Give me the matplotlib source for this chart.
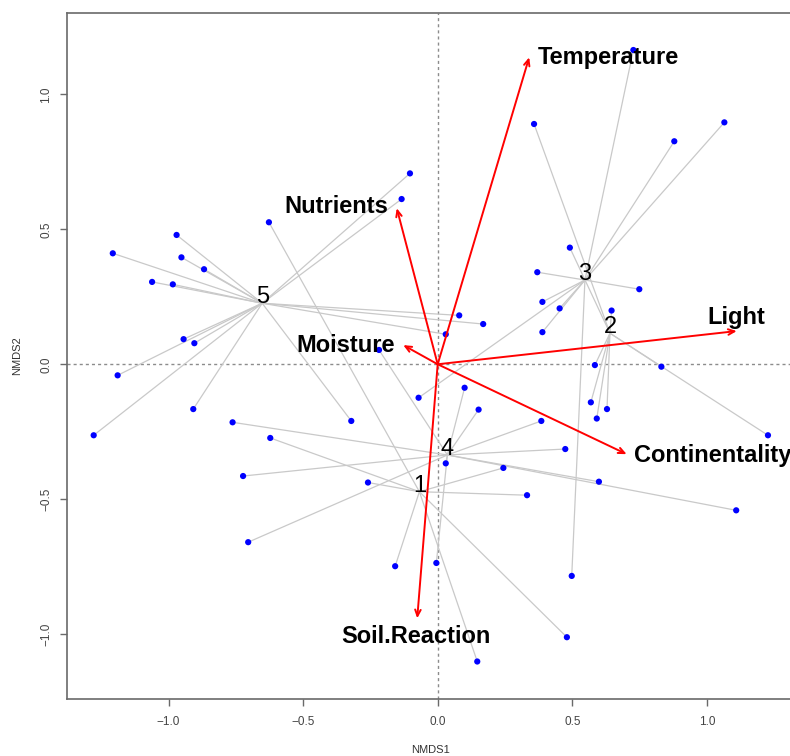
import numpy as np
import matplotlib
matplotlib.use("Agg")
import matplotlib.pyplot as plt

plt.rcParams["font.family"] = ["Liberation Sans", "DejaVu Sans"]

# =========================
# DATA (read off the NMDS ordination)
# =========================
# site scores, grouped by cluster
site_x = [
    # group 1
    -0.627, -0.622, -0.259, -0.158, 0.147, 0.480, 0.332, 0.244,
    # group 2
    0.584, 0.831, 0.569, 0.629, 0.591, 1.227, 0.646, 0.491, 0.358,
    # group 3
    0.727, 0.879, 1.065, 0.370, 0.749, 0.389, 0.453, 0.389, -0.071, 0.498,
    # group 4
    -0.762, -0.723, -0.704, 0.100, 0.152, 0.385, 0.474, 0.599, 1.109, -0.005, 0.030, -0.218,
    # group 5
    -1.207, -0.970, -0.952, -0.868, -1.061, -0.984, -0.944, -0.904, -1.189, -1.278,
    -0.908, -0.103, -0.134, 0.080, 0.169, 0.030, -0.321,
]
site_y = [
    0.526, -0.273, -0.438, -0.748, -1.101, -1.011, -0.485, -0.384,
    -0.003, -0.009, -0.141, -0.166, -0.201, -0.263, 0.199, 0.432, 0.890,
    1.164, 0.826, 0.896, 0.341, 0.278, 0.231, 0.207, 0.119, -0.124, -0.784,
    -0.215, -0.414, -0.659, -0.087, -0.168, -0.210, -0.314, -0.435, -0.541, -0.736, -0.367, 0.053,
    0.411, 0.479, 0.396, 0.352, 0.305, 0.296, 0.093, 0.078, -0.041, -0.263,
    -0.166, 0.707, 0.612, 0.181, 0.149, 0.111, -0.210,
]
site_group = [1] * 8 + [2] * 9 + [3] * 10 + [4] * 12 + [5] * 17

# group centroids (spider centres)
GROUPS = [1, 2, 3, 4, 5]
cent_x = [-0.068, 0.640, 0.547, 0.036, -0.652]
cent_y = [-0.472, 0.115, 0.312, -0.336, 0.226]

# envfit vectors
VARS = ["Temperature", "Nutrients", "Moisture", "Light", "Continentality", "Soil.Reaction"]
vec_x = [0.340, -0.152, -0.128, 1.111, 0.702, -0.076]
vec_y = [1.137, 0.578, 0.071, 0.123, -0.333, -0.941]

# label placement relative to arrow tip: (ha, va, dx pt, dy pt)
LABEL_STYLE = {
    "Temperature": ("left", "center", 6, 0),
    "Nutrients": ("right", "center", -6, 1),
    "Moisture": ("right", "center", -6, 0),
    "Light": ("center", "center", 0, 10),
    "Continentality": ("left", "center", 5, -1),
    "Soil.Reaction": ("center", "center", -1, -13),
}

# =========================
# FIGURE
# =========================
W, H = 790, 756
fig = plt.figure(figsize=(W / 100, H / 100), dpi=100)
ax = fig.add_axes([67.3 / W, (H - 699.3) / H, (793 - 67.3) / W, (699.3 - 13.3) / H])
ax.set_xlim(-1.376, 1.320)
ax.set_ylim(-1.241, 1.300)

# zero cross
ax.axhline(0, color="#8c8c8c", lw=1.0, ls=(0, (2.2, 2.2)), zorder=1)
ax.axvline(0, color="#8c8c8c", lw=1.0, ls=(0, (2.2, 2.2)), zorder=1)

# spider lines
cx = dict(zip(GROUPS, cent_x))
cy = dict(zip(GROUPS, cent_y))
for x, y, g in zip(site_x, site_y, site_group):
    ax.plot([cx[g], x], [cy[g], y], color="#c9c9c9", lw=0.9, zorder=2)

# sites
ax.scatter(site_x, site_y, s=20, color="#0000ff", edgecolors="none", zorder=3)

# group labels
for g, x, y in zip(GROUPS, cent_x, cent_y):
    ax.text(x, y, str(g), ha="center", va="baseline", fontsize=17, color="black", zorder=5)

# envfit arrows
for name, x, y in zip(VARS, vec_x, vec_y):
    ax.annotate(
        "",
        xy=(x, y),
        xytext=(0, 0),
        arrowprops=dict(
            arrowstyle="->,head_length=0.45,head_width=0.2",
            color="#ff0000",
            lw=1.4,
            shrinkA=0,
            shrinkB=0,
        ),
        zorder=4,
    )
    ha, va, dx, dy = LABEL_STYLE[name]
    ax.annotate(
        name,
        xy=(x, y),
        xytext=(dx, dy),
        textcoords="offset points",
        ha=ha,
        va=va,
        fontsize=17,
        fontweight="bold",
        color="black",
        zorder=6,
        annotation_clip=False,
    )

# axes styling (R base look)
for side in ["left", "bottom", "top", "right"]:
    ax.spines[side].set_color("#6a6a6a")
    ax.spines[side].set_linewidth(1.2)

ticks = [-1.0, -0.5, 0.0, 0.5, 1.0]
ax.set_xticks(ticks)
ax.set_yticks(ticks)
ax.set_xticklabels([f"{t:.1f}".replace("-", "\u2212") for t in ticks])
ax.set_yticklabels([f"{t:.1f}".replace("-", "\u2212") for t in ticks], rotation=90, va="center")
ax.tick_params(axis="both", direction="out", length=5, width=1.0, color="#6a6a6a",
               labelsize=8.5, labelcolor="#444444")
ax.tick_params(axis="x", pad=7)
ax.tick_params(axis="y", pad=6)

fig.text(430 / W, 1 - 750 / H, "NMDS1", ha="center", va="center", fontsize=8, color="#333333")
fig.text(17 / W, 1 - 356 / H, "NMDS2", ha="center", va="center", rotation=90, fontsize=8,
         color="#333333")

fig.savefig("out.png", dpi=100)
